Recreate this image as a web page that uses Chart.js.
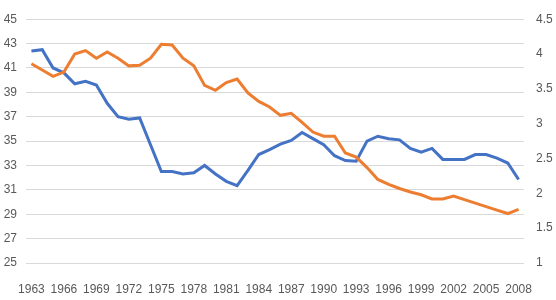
<!DOCTYPE html>
<html>
<head>
<meta charset="utf-8">
<script src="https://cdn.jsdelivr.net/npm/chart.js@4/dist/chart.umd.min.js"></script>
<style>
  html, body { margin: 0; padding: 0; background: #fff; }
  #wrap { width: 556px; height: 300px; }
</style>
</head>
<body>
<div id="wrap"><canvas id="chart"></canvas></div>
<script>
const years = [];
for (let y = 1963; y <= 2008; y++) years.push(String(y));

// left axis series (blue)
const blueValues = [
  42.4, 42.5, 41.0, 40.6, 39.7, 39.9, 39.6, 38.1, 37.0, 36.8,
  36.9, 34.7, 32.5, 32.5, 32.3, 32.4, 33.0, 32.3, 31.7, 31.35,
  32.6, 33.9, 34.3, 34.75, 35.05, 35.7, 35.2, 34.7, 33.8, 33.4,
  33.35, 35.0, 35.4, 35.2, 35.1, 34.4, 34.1, 34.4, 33.5, 33.5,
  33.5, 33.9, 33.9, 33.6, 33.2, 31.85
];

// right axis series (orange)
const orangeValues = [
  3.86, 3.77, 3.68, 3.74, 4.0, 4.05, 3.94, 4.03, 3.94, 3.83,
  3.84, 3.94, 4.14, 4.13, 3.94, 3.83, 3.55, 3.48, 3.59, 3.64,
  3.44, 3.32, 3.24, 3.12, 3.15, 3.02, 2.88, 2.82, 2.82, 2.58,
  2.52, 2.37, 2.2, 2.13, 2.07, 2.02, 1.98, 1.92, 1.92, 1.96,
  1.91, 1.86, 1.81, 1.76, 1.71, 1.77
];

const tickColor = '#595959';
const tickFont = { family: 'Liberation Sans, Arial, sans-serif', size: 12 };

const ctx = document.getElementById('chart').getContext('2d');
new Chart(ctx, {
  type: 'line',
  data: {
    labels: years,
    datasets: [
      {
        data: blueValues,
        yAxisID: 'yLeft',
        borderColor: '#4472C4',
        borderWidth: 3,
        pointRadius: 0,
        tension: 0,
        fill: false,
        order: 2
      },
      {
        data: orangeValues,
        yAxisID: 'yRight',
        borderColor: '#ED7D31',
        borderWidth: 3,
        pointRadius: 0,
        tension: 0,
        fill: false,
        order: 1
      }
    ]
  },
  options: {
    responsive: true,
    maintainAspectRatio: false,
    animation: false,
    layout: { padding: { top: 9 } },
    plugins: {
      legend: { display: false },
      tooltip: { enabled: false }
    },
    scales: {
      x: {
        offset: true,
        grid: { display: false },
        border: { display: false },
        ticks: {
          color: tickColor,
          font: tickFont,
          autoSkip: false,
          maxRotation: 0,
          padding: 11,
          callback: function (value, index) {
            return index % 3 === 0 ? years[index] : '';
          }
        },
        afterFit: function (scale) { scale.height = 37; }
      },
      yLeft: {
        position: 'left',
        min: 25,
        max: 45,
        grid: { color: '#d9d9d9', drawTicks: false },
        border: { display: false },
        ticks: { stepSize: 2, color: tickColor, font: tickFont, padding: 9 },
        afterFit: function (scale) { scale.width = 26; }
      },
      yRight: {
        position: 'right',
        min: 1,
        max: 4.5,
        grid: { display: false, drawTicks: false },
        border: { display: false },
        ticks: {
          stepSize: 0.5,
          color: tickColor,
          font: tickFont,
          padding: 12,
          callback: function (value) { return String(Math.round(value * 10) / 10); }
        },
        afterFit: function (scale) { scale.width = 32; }
      }
    }
  }
});
</script>
</body>
</html>
